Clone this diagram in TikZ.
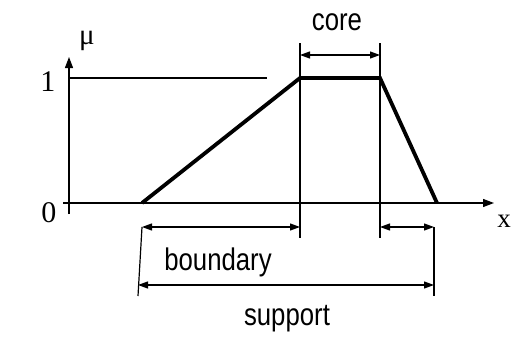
\documentclass[tikz,border=0pt]{standalone}
\usepackage{fontspec}
\setmainfont{Liberation Serif}
\setsansfont{Liberation Sans}
\usetikzlibrary{arrows.meta}
\newcommand{\tallsans}[1]{\scalebox{1.03}[1.25]{\sffamily\fontsize{25}{30}\selectfont #1}}
\begin{document}
\begin{tikzpicture}[x=1pt,y=-1pt,
  thin line/.style={line width=1.2pt},
  dim/.style={line width=1.2pt,{Triangle[length=10pt,width=7pt]}-{Triangle[length=10pt,width=7pt]}},
  axis/.style={line width=1.2pt,-{Triangle[length=11pt,width=8pt]}},
  curve/.style={line width=3.8pt,line join=miter},
  lab/.style={inner sep=0pt},
  num/.style={font=\fontsize{30}{34}\selectfont,inner sep=0pt}]
\useasboundingbox (0,0) rectangle (515,340);
% axes
\coordinate (ybot) at (69,214);
\coordinate (ytop) at (69,57);
\coordinate (xl) at (63,203);
\coordinate (xr) at (494,203);
\draw[axis] (ybot) -- (ytop);
\draw[axis] (xl) -- (xr);
% level-1 line
\coordinate (oneL) at (70,78);
\coordinate (oneR) at (267,78);
\draw[thin line] (oneL) -- (oneR);
% trapezoid
\coordinate (a) at (142,203);
\coordinate (b) at (300,78);
\coordinate (c) at (380,78);
\coordinate (d) at (437,203);
\draw[curve] (a) -- (b) -- (c) -- (d);
% verticals
\coordinate (v1t) at (300,43);
\coordinate (v1b) at (300,238);
\coordinate (v2t) at (380,43);
\coordinate (v2b) at (380,238);
\draw[thin line] (v1t) -- (v1b);
\draw[thin line] (v2t) -- (v2b);
\coordinate (sLt) at (142,227);
\coordinate (sLb) at (138,296);
\coordinate (sRt) at (434,227);
\coordinate (sRb) at (434,296);
\draw[thin line] (sLt) -- (sLb);
\draw[thin line] (sRt) -- (sRb);
% dimension arrows
\coordinate (c1) at (300,55);
\coordinate (c2) at (380,55);
\draw[dim] (c1) -- (c2);
\coordinate (b1) at (142,227);
\coordinate (b2) at (300,227);
\draw[dim] (b1) -- (b2);
\coordinate (r1) at (380,227);
\coordinate (r2) at (434,227);
\draw[dim] (r1) -- (r2);
\coordinate (s1) at (138,285);
\coordinate (s2) at (434,285);
\draw[dim] (s1) -- (s2);
% labels
\node[lab] (core) at (337,22) {\tallsans{core}};
\node[lab] (boundary) at (218,262) {\tallsans{boundary}};
\node[lab] (support) at (287,319) {\tallsans{support}};
\node[num] (one) at (48,82) {1};
\node[num] (zero) at (49,213) {0};
\node[font=\fontsize{27}{30}\selectfont,inner sep=0pt] (xlab) at (504,221) {x};
\node[font=\fontsize{29}{32}\selectfont,inner sep=0pt] (mu) at (87,41) {μ};
\end{tikzpicture}
\end{document}
